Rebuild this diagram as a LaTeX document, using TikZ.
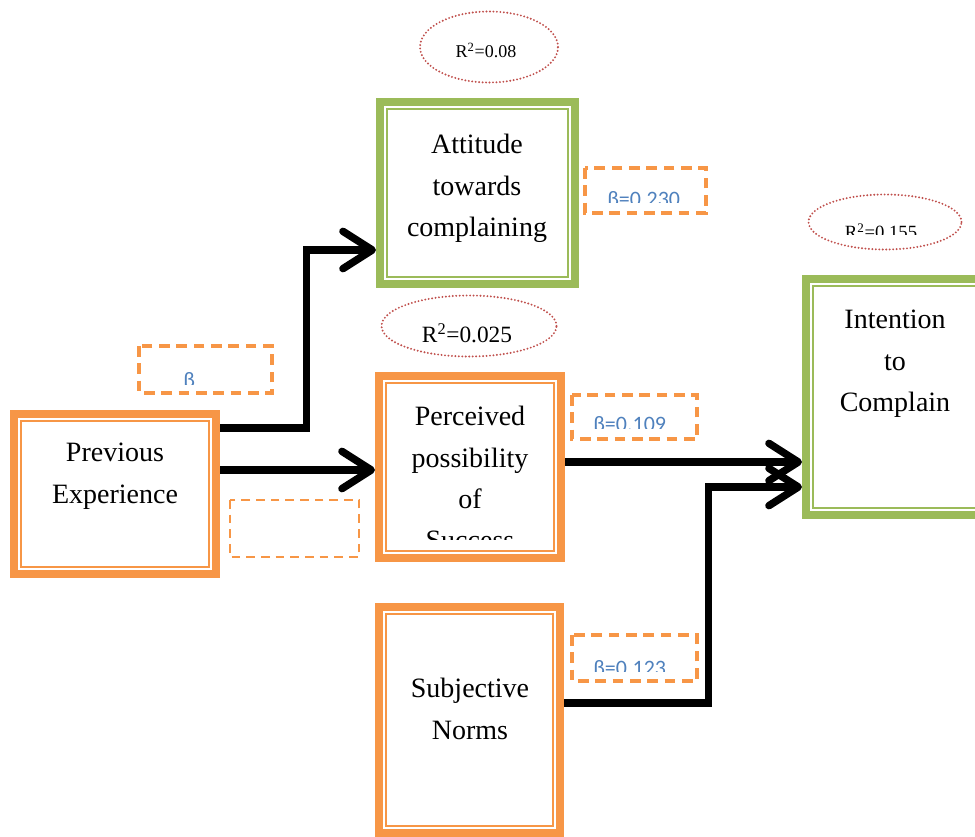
\documentclass[tikz,border=0pt]{standalone}
\usepackage{fontspec}
\setmainfont{Liberation Serif}
\newfontfamily\betafont{Carlito}
\usepackage{tikz}
\usetikzlibrary{shapes.geometric,arrows.meta,fit}
\definecolor{boxorange}{HTML}{F79646}
\definecolor{boxgreen}{HTML}{9BBB59}
\definecolor{ringred}{HTML}{C0504D}
\definecolor{betablue}{HTML}{4F81BD}
\tikzstyle{frame}=[draw, line width=6pt, inner sep=0pt,
	path picture={\draw[line width=1.1pt] ([shift={(5.4pt,-5.4pt)}]path picture bounding box.north west) rectangle ([shift={(-5.4pt,5.4pt)}]path picture bounding box.south east);}]
\tikzstyle{orangebox}=[frame, color=boxorange]
\tikzstyle{greenbox}=[frame, color=boxgreen]
\tikzstyle{boxtext}=[align=center, inner sep=0pt, anchor=north, font=\fontsize{21}{31}\selectfont]
\tikzstyle{rsq}=[ellipse, draw=ringred, line width=1.6pt, dash pattern=on 0pt off 2.6pt, line cap=round, inner sep=0pt]
\tikzstyle{rsqtext}=[inner sep=0pt, anchor=base]
\tikzstyle{betabox}=[draw=boxorange, line width=2.3pt, dash pattern=on 8pt off 5pt]
\tikzstyle{betatext}=[text=betablue, font=\betafont\fontsize{16.5}{20}\selectfont, inner sep=0pt, anchor=base west]
\tikzstyle{conn}=[line width=5.6pt, line join=miter, -{Straight Barb[round, length=22pt, width=28pt]}]

\begin{document}
\begin{tikzpicture}[x=0.75pt, y=-0.75pt]
		\useasboundingbox (0,0) rectangle (975,837);
		\clip (0,0) rectangle (975,837);

		% framed boxes
		\node[orangebox, fit={(14,414) (216,574)}] (prev) {};
		\node[greenbox, fit={(380,102) (575,284)}] (att) {};
		\node[orangebox, fit={(379,376) (561,558)}] (perc) {};
		\node[orangebox, fit={(379,607) (560,833)}] (subj) {};
		\node[greenbox, fit={(806,279) (990,515)}] (intent) {};

		\node[boxtext] (prevtext) at (115,443) {Previous\\Experience};
		\node[boxtext] (atttext) at (477,134) {Attitude\\towards\\complaining};
		\begin{scope}
			\clip (380,380) rectangle (560,540);
			\node[boxtext] (perctext) at (470,406) {Perceived\\possibility\\of\\Success};
		\end{scope}
		\node[boxtext] (subjtext) at (470,678) {Subjective\\Norms};
		\node[boxtext] (intenttext) at (895,310) {Intention\\to\\Complain};

		% R squared
		\node[rsq, minimum width=103.5pt, minimum height=53.25pt] (rsqatt) at (489,47) {};
		\node[rsqtext, font=\fontsize{13.5}{16}\selectfont] (rsqatttext) at (486,58) {R\textsuperscript{2}=0.08};
		\node[rsq, minimum width=131.25pt, minimum height=45.75pt] (rsqperc) at (469,326) {};
		\node[rsqtext, font=\fontsize{17.5}{20}\selectfont] (rsqperctext) at (467,343) {R\textsuperscript{2}=0.025};
		\node[rsq, minimum width=114.75pt, minimum height=41.25pt] (rsqint) at (885,222) {};
		\begin{scope}
			\clip (820,200) rectangle (950,235);
			\node[rsqtext, font=\fontsize{14}{16}\selectfont] (rsqinttext) at (881,239) {R\textsuperscript{2}=0.155};
		\end{scope}

		% beta boxes
		\draw[betabox] (139,346) rectangle (272,393);
		\begin{scope}
			\clip (139,346) rectangle (272,385);
			\node[betatext] (betaprev) at (183,388) {β};
		\end{scope}
		\draw[betabox] (585,168) rectangle (706,213);
		\begin{scope}
			\clip (585,168) rectangle (706,203);
			\node[betatext] (betaatt) at (607,207) {β=0.230};
		\end{scope}
		\draw[betabox] (572,395) rectangle (697,439);
		\begin{scope}
			\clip (572,395) rectangle (697,429);
			\node[betatext] (betaperc) at (593,432) {β=0.109};
		\end{scope}
		\draw[betabox] (572,635) rectangle (697,681);
		\begin{scope}
			\clip (572,635) rectangle (697,671);
			\node[betatext] (betasubj) at (593,675) {β=0.123};
		\end{scope}
		\draw[betabox, line width=1.9pt, dash pattern=on 6.5pt off 4.5pt] (230,500) rectangle (359,557);

		% paths
		\draw[conn] ([yshift=49.5pt]prev.east) -- ++(65pt,0) |- ([yshift=-42.75pt]att.west);
		\draw[conn] ([yshift=18pt]prev.east) -- ([yshift=18pt]prev.east -| perc.west);
		\draw[conn] ([yshift=3.75pt]perc.east) -- ([yshift=3.75pt]perc.east -| intent.west);
		\draw[conn] ([yshift=12.75pt]subj.east) -- ++(108.5pt,0) |- ([yshift=-67.5pt]intent.west);

\end{tikzpicture}
\end{document}
